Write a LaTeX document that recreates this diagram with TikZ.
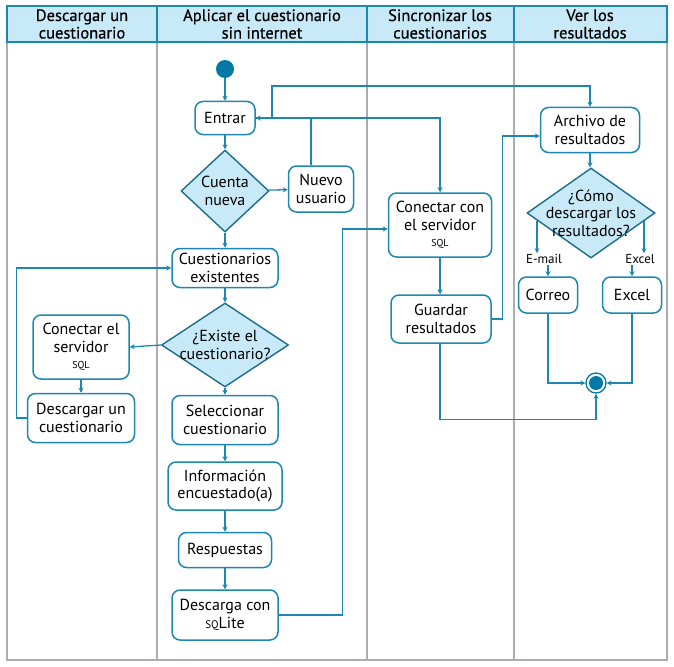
\documentclass[tikz,border=0pt]{standalone}
\usepackage{fontspec}
\setmainfont{PT Sans}
\newfontfamily\hfont{PT Sans}[FakeBold=0.6]
\usetikzlibrary{shapes.geometric,arrows.meta,calc}
\definecolor{lblue}{RGB}{28,136,178}
\definecolor{dblue}{RGB}{28,108,140}
\definecolor{sfill}{RGB}{0,120,168}
\definecolor{pfill}{RGB}{200,234,248}
\definecolor{sep}{RGB}{172,172,178}
\tikzset{
  box/.style={draw=lblue,line width=1.5pt,rounded corners=8pt,fill=white,align=center,inner sep=1pt,font=\fontsize{16}{17.5}\selectfont},
  dia/.style={draw=dblue,line width=1.4pt,fill=pfill,shape=diamond,inner sep=0pt},
  dtext/.style={align=center,font=\fontsize{16}{17.5}\selectfont},
  arr/.style={draw=lblue,line width=1.3pt,-{Stealth[length=5pt,width=5pt]}},
  hdr/.style={align=center,font=\hfont\fontsize{16.5}{17.5}\selectfont},
  lbl/.style={font=\fontsize{13}{14}\selectfont,inner sep=1pt}
}
\newcommand{\sqlt}{{\fontsize{10}{10}\selectfont SQL}}
\begin{document}
\begin{tikzpicture}[x=1pt,y=-1pt]
\useasboundingbox (0,0) rectangle (674,666);
% frame
\draw[sep,line width=1.3pt] (7,42) -- (7,660) -- (667,660) -- (667,42);
\foreach \xx in {157,367,514} \draw[sep,line width=1.3pt] (\xx,42) -- (\xx,660);
\fill[pfill] (7,6) rectangle (667,42);
\draw[lblue,line width=1.3pt] (7,6) rectangle (667,42);
\foreach \xx in {157,367,514} \draw[lblue,line width=1.3pt] (\xx,6) -- (\xx,42);
\node[hdr] (h1) at (82,24) {Descargar un\\cuestionario};
\node[hdr] (h2) at (262,24) {Aplicar el cuestionario\\sin internet};
\node[hdr] (h3) at (440,24) {Sincronizar los\\cuestionarios};
\node[hdr] (h4) at (590,24) {Ver los\\resultados};
% nodes
\node[circle,fill=sfill,minimum size=18pt,inner sep=0pt] (start) at (225,69) {};
\node[box,minimum width=60pt,minimum height=33pt] (entrar) at (225,118) {Entrar};
\node[dia,minimum width=88pt,minimum height=82pt,label={[dtext]center:Cuenta\\nueva}] (cuenta) at (225,191) {};
\node[box,minimum width=65pt,minimum height=46pt] (nuevo) at (321,189) {Nuevo\\usuario};
\node[box,minimum width=106pt,minimum height=39pt] (exist) at (225,268) {Cuestionarios\\existentes};
\node[dia,minimum width=127pt,minimum height=84pt,label={[dtext]center:¿Existe el\\cuestionario?}] (existe) at (225,345) {};
\node[box,minimum width=96pt,minimum height=64pt] (conel) at (81,347) {Conectar el\\servidor\\[-1pt]\sqlt};
\node[box,minimum width=107pt,minimum height=49pt] (descargar) at (81,418) {Descargar un\\cuestionario};
\node[box,minimum width=106pt,minimum height=49pt] (selec) at (225,420) {Seleccionar\\cuestionario};
\node[box,minimum width=114pt,minimum height=48pt] (info) at (225,486) {Información\\encuestado(a)};
\node[box,minimum width=93pt,minimum height=35pt] (resp) at (225,550) {Respuestas};
\node[box,minimum width=106pt,minimum height=50pt] (descarga) at (225,615) {Descarga con\\{\fontsize{11}{11}\selectfont SQ}Lite};
\node[box,minimum width=103pt,minimum height=64pt] (concon) at (440,225) {Conectar con\\el servidor\\[-1pt]\sqlt};
\node[box,minimum width=100pt,minimum height=48pt] (guardar) at (441,319) {Guardar\\resultados};
\node[box,minimum width=99pt,minimum height=45pt] (archivo) at (590,130) {Archivo de\\resultados};
\node[dia,minimum width=128pt,minimum height=90pt,label={[dtext]center:¿Cómo\\descargar los\\resultados?}] (como) at (591,213) {};
\node[box,minimum width=59pt,minimum height=36pt] (correo) at (548,295) {Correo};
\node[box,minimum width=59pt,minimum height=36pt] (excel) at (632,295) {Excel};
\node[lbl] (lemail) at (544,259) {E-mail};
\node[lbl] (lexcel) at (640,259) {Excel};
\node[circle,draw=sfill,line width=1.3pt,fill=white,minimum size=20pt,inner sep=0pt] (fin) at (596,383) {};
\fill[sfill] (fin.center) circle (7pt);
% junction coordinates
\coordinate (ja) at (272,118);
\coordinate (jb) at (272,86);
\coordinate (cl) at (537,221);
\coordinate (cr) at (644,221);
% connectors
\draw[arr] (start) -- (entrar);
\draw[arr] (entrar) -- (cuenta);
\draw[arr] (cuenta) -- (nuevo);
\draw[arr] ([xshift=-10pt]nuevo.north) |- (entrar.east);
\draw[arr] (entrar.east) -| (concon.north);
\draw[arr] (ja) -- (jb) -| (archivo.north);
\draw[arr] (cuenta) -- (exist);
\draw[arr] (exist) -- (existe);
\draw[arr] (existe.west) -- (conel.east);
\draw[arr] (conel) -- (descargar);
\draw[arr] (descargar.west) -- ++(-10,0) |- (exist.west);
\draw[arr] (existe) -- (selec);
\draw[arr] (selec) -- (info);
\draw[arr] (info) -- (resp);
\draw[arr] (resp) -- (descarga);
\draw[arr] (descarga.east) -- ++(64,0) |- ([yshift=-4pt]concon.west);
\draw[arr] (concon) -- (concon |- guardar.north);
\draw[arr] (guardar.east) -- ++(11,0) |- ([yshift=-6pt]archivo.west);
\draw[arr] (guardar.south -| concon) -- ++(0,76) -| (fin.south);
\draw[arr] (archivo) -- (archivo |- como.north);
\draw[arr] (cl) -- (cl |- lemail.north);
\draw[arr] (correo.north |- lemail.south) -- (correo.north);
\draw[arr] (cr) -- (cr |- lexcel.north);
\draw[arr] (excel.north |- lexcel.south) -- (excel.north);
\draw[arr] (correo.south) |- (fin.west);
\draw[arr] (excel.south) |- (fin.east);
\end{tikzpicture}
\end{document}
